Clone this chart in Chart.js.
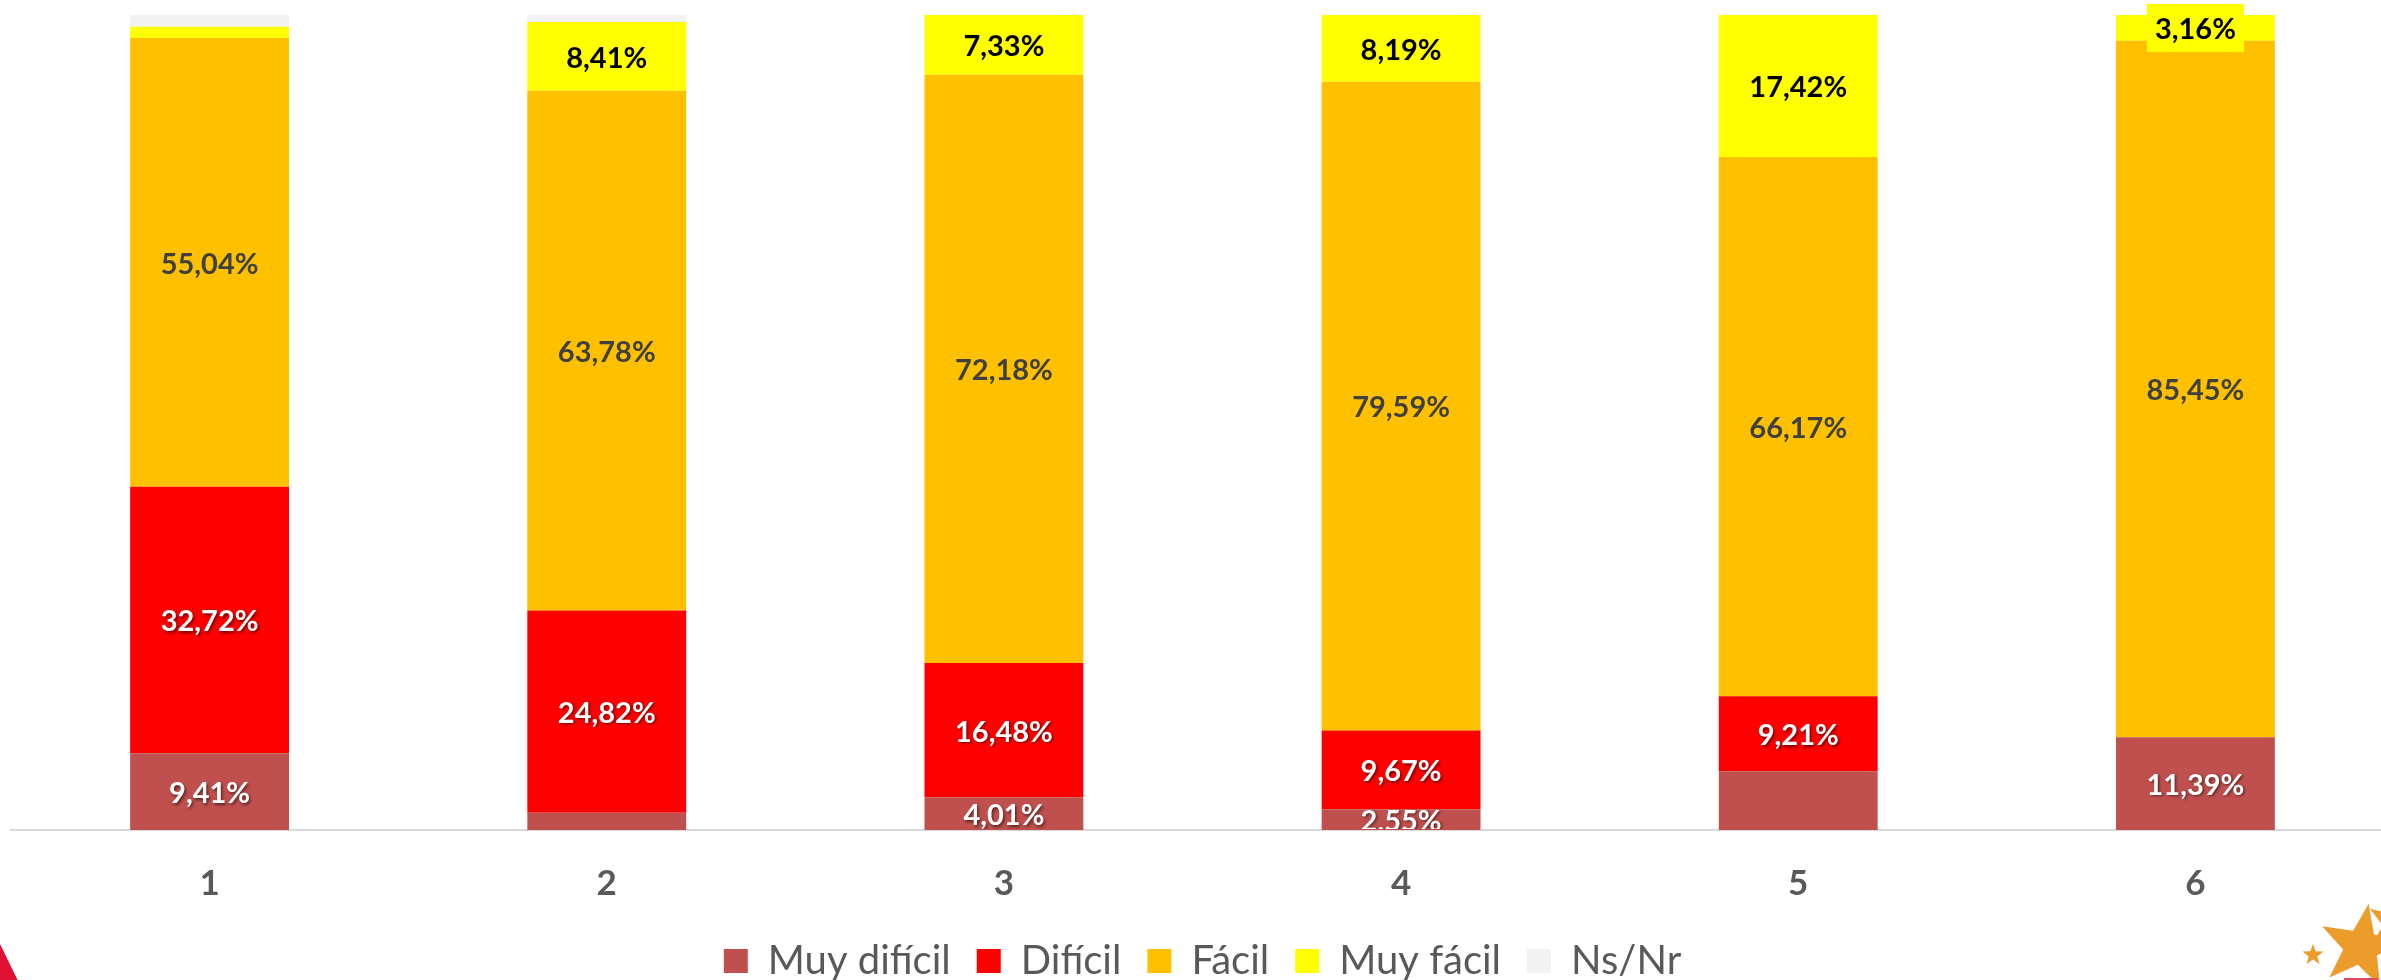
<!DOCTYPE html>
<html><head><meta charset="utf-8">
<script src="https://cdn.jsdelivr.net/npm/chart.js@4.4.1/dist/chart.umd.min.js"></script>
<style>
html,body{margin:0;padding:0;overflow:hidden;background:#fff;width:2381px;height:980px;}
#wrap{position:absolute;left:0;top:0;width:2400px;height:991px;}
</style></head><body>
<div id="wrap"><canvas id="c"></canvas></div>
<script>
// ---- data ----
const categories = ['1', '2', '3', '4', '5', '6'];
const seriesNames = ['Muy difícil', 'Difícil', 'Fácil', 'Muy fácil', 'Ns/Nr'];
const muyDificil = [9.41, 2.12, 4.01, 2.55, 7.20, 11.39];
const dificil    = [32.72, 24.82, 16.48, 9.67, 9.21, 0];
const facil      = [55.04, 63.78, 72.18, 79.59, 66.17, 85.45];
const muyFacil   = [1.40, 8.41, 7.33, 8.19, 17.42, 3.16];
const nsNr       = [1.43, 0.87, 0, 0, 0, 0];
// which value labels appear in the original
const showMuyDificil = [true, false, true, true, false, true];
const showDificil    = [true, true, true, true, true, false];
const showFacil      = [true, true, true, true, true, true];
const showMuyFacil   = [false, true, true, true, true, true];
const showNsNr       = [false, false, false, false, false, false];

const seriesColors = ['#C0504D', '#FF0000', '#FFC000', '#FFFF00', '#F2F2F2'];
const labelStyles = [
  {color: '#FFFFFF', shadow: true},
  {color: '#FFFFFF', shadow: true},
  {color: '#404040', shadow: false},
  {color: '#000000', shadow: false},
  {color: '#404040', shadow: false}
];

const valueLabels = {
  id: 'valueLabels',
  afterDatasetsDraw(chart, args, opts) {
    const ctx = chart.ctx, area = chart.chartArea;
    ctx.save();
    ctx.beginPath();
    ctx.rect(area.left, 0, area.right - area.left, area.bottom - 1);
    ctx.clip();
    ctx.font = 'bold 29px Lato';
    ctx.textAlign = 'center';
    ctx.textBaseline = 'middle';
    chart.data.datasets.forEach((ds, di) => {
      const meta = chart.getDatasetMeta(di);
      const st = labelStyles[di];
      meta.data.forEach((bar, i) => {
        if (!ds.showLabel[i]) return;
        const v = ds.data[i];
        const text = v.toFixed(2).replace('.', ',') + '%';
        const cy = (bar.y + bar.base) / 2;
        const box = opts.boxed.find(b => b.ds === di && b.index === i);
        if (box) {
          const w = ctx.measureText(text).width + 2 * box.padX;
          ctx.fillStyle = box.color;
          ctx.fillRect(bar.x - w / 2, cy - box.h / 2, w, box.h);
        }
        ctx.save();
        if (st.shadow) {
          ctx.shadowColor = 'rgba(0,0,0,0.55)';
          ctx.shadowBlur = 3;
          ctx.shadowOffsetX = 1.5;
          ctx.shadowOffsetY = 1.5;
        }
        ctx.fillStyle = st.color;
        ctx.fillText(text, bar.x, cy + 2);
        ctx.restore();
      });
    });
    ctx.restore();
  }
};

function star(ctx, cx, cy, R, r, rot) {
  ctx.beginPath();
  for (let k = 0; k < 10; k++) {
    const a = (rot - 90 + k * 36) * Math.PI / 180;
    const rad = k % 2 === 0 ? R : r;
    const px = cx + rad * Math.cos(a), py = cy + rad * Math.sin(a);
    if (k === 0) ctx.moveTo(px, py); else ctx.lineTo(px, py);
  }
  ctx.closePath();
  ctx.fill();
}

const decorations = {
  id: 'decorations',
  afterDraw(chart) {
    const ctx = chart.ctx;
    ctx.save();
    ctx.fillStyle = '#DE1034';
    ctx.beginPath();
    ctx.moveTo(0, 944); ctx.lineTo(23, 991); ctx.lineTo(0, 991); ctx.closePath();
    ctx.fill();
    ctx.fillStyle = '#EC9C2B';
    star(ctx, 2361, 947, 44, 18, 10);
    star(ctx, 2313, 955, 11, 4.5, 0);
    star(ctx, 2395, 925, 30, 12, 15);
    ctx.fillStyle = '#E04B5A';
    ctx.fillRect(2344, 978, 34, 2);
    ctx.restore();
  }
};

const seriesData = [muyDificil, dificil, facil, muyFacil, nsNr];
const seriesShow = [showMuyDificil, showDificil, showFacil, showMuyFacil, showNsNr];

new Chart(document.getElementById('c'), {
  type: 'bar',
  data: {
    labels: categories,
    datasets: seriesNames.map((name, k) => ({
      label: name,
      data: seriesData[k],
      showLabel: seriesShow[k],
      backgroundColor: seriesColors[k],
      borderWidth: 0,
      barPercentage: 0.4,
      categoryPercentage: 1.0
    }))
  },
  options: {
    responsive: true,
    maintainAspectRatio: false,
    animation: false,
    layout: {padding: {left: 11, right: 6, top: 15, bottom: 0}},
    scales: {
      x: {
        stacked: true,
        grid: {display: false, drawTicks: false},
        border: {display: true, color: '#D9D9D9', width: 2},
        ticks: {color: '#595959', padding: 33, font: {family: 'Lato', size: 35, weight: 'bold'}},
        afterFit(scale) { scale.height = 85; }
      },
      y: {
        stacked: true,
        display: false,
        min: 0,
        max: 100
      }
    },
    plugins: {
      legend: {
        position: 'bottom',
        labels: {
          boxWidth: 24, boxHeight: 24, padding: 26, color: '#595959',
          font: {family: 'Lato', size: 40}
        }
      },
      tooltip: {enabled: false},
      valueLabels: {boxed: [{ds: 3, index: 5, color: '#FFFF00', padX: 8, h: 48}]}
    }
  },
  plugins: [valueLabels, decorations]
});
</script>
</body></html>
